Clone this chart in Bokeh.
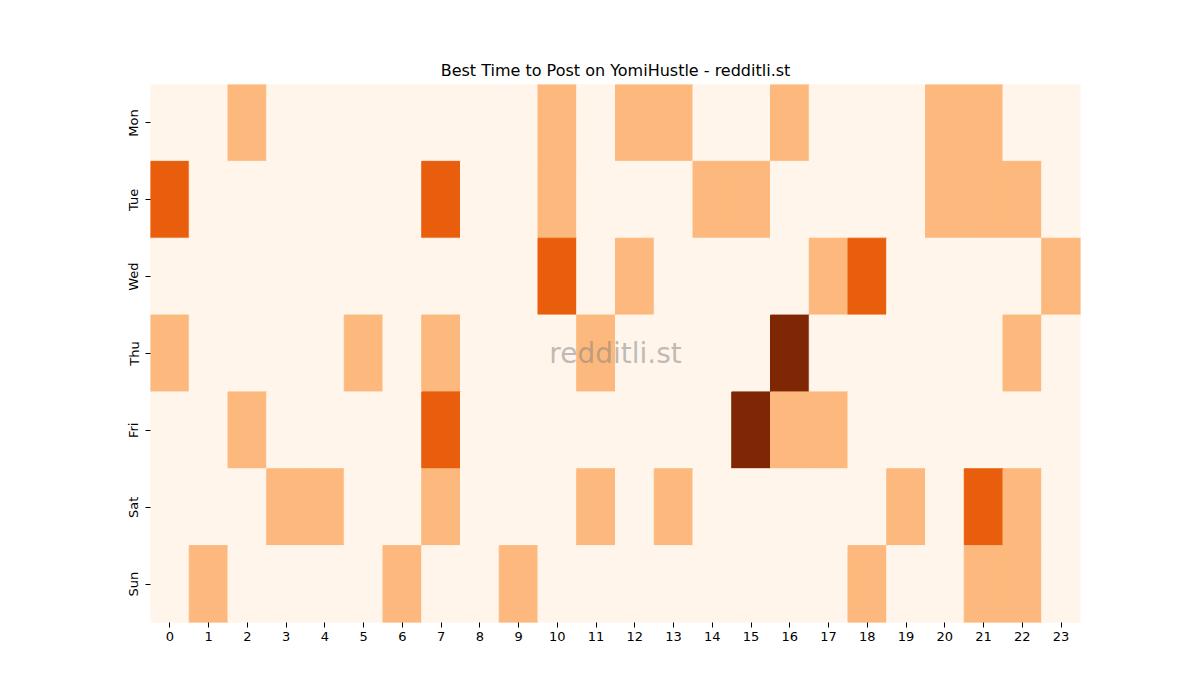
from bokeh.plotting import figure
from bokeh.models import ColumnDataSource, Label, LinearColorMapper
from bokeh.embed import file_html
from bokeh.resources import INLINE

# posting activity per weekday and hour (0..3)
days = ["Mon", "Tue", "Wed", "Thu", "Fri", "Sat", "Sun"]
hours = [str(h) for h in range(24)]

mon = [0, 0, 1, 0, 0, 0, 0, 0, 0, 0, 1, 0, 1, 1, 0, 0, 1, 0, 0, 0, 1, 1, 0, 0]
tue = [2, 0, 0, 0, 0, 0, 0, 2, 0, 0, 1, 0, 0, 0, 1, 1, 0, 0, 0, 0, 1, 1, 1, 0]
wed = [0, 0, 0, 0, 0, 0, 0, 0, 0, 0, 2, 0, 1, 0, 0, 0, 0, 1, 2, 0, 0, 0, 0, 1]
thu = [1, 0, 0, 0, 0, 1, 0, 1, 0, 0, 0, 1, 0, 0, 0, 0, 3, 0, 0, 0, 0, 0, 1, 0]
fri = [0, 0, 1, 0, 0, 0, 0, 2, 0, 0, 0, 0, 0, 0, 0, 3, 1, 1, 0, 0, 0, 0, 0, 0]
sat = [0, 0, 0, 1, 1, 0, 0, 1, 0, 0, 0, 1, 0, 1, 0, 0, 0, 0, 0, 1, 0, 2, 1, 0]
sun = [0, 1, 0, 0, 0, 0, 1, 0, 0, 1, 0, 0, 0, 0, 0, 0, 0, 0, 1, 0, 0, 1, 1, 0]

rows = [mon, tue, wed, thu, fri, sat, sun]

palette = ["#fff5eb", "#fdb97d", "#e95e0d", "#7f2704"]

xs, ys, vals = [], [], []
for d, row in zip(days, rows):
    for h, v in zip(hours, row):
        xs.append(h)
        ys.append(d)
        vals.append(v)

source = ColumnDataSource(dict(hour=xs, day=ys, value=vals))
mapper = LinearColorMapper(palette=palette, low=0, high=3)

p = figure(width=1192, height=692, x_range=hours, y_range=list(reversed(days)),
           output_backend="svg", toolbar_location=None,
           title="Best Time to Post on YomiHustle - redditli.st")
p.min_border_left = 150
p.min_border_right = 112
p.min_border_top = 84
p.min_border_bottom = 70
p.outline_line_color = None
p.grid.grid_line_color = None

# outline in the same colour so no seams show between cells
p.rect(x="hour", y="day", width=1, height=1, source=source,
       fill_color={"field": "value", "transform": mapper},
       line_color={"field": "value", "transform": mapper}, line_width=1)

p.title.align = "center"
p.title.text_font = "DejaVu Sans"
p.title.text_font_size = "16px"
p.title.text_font_style = "normal"
p.title.text_color = "black"

for ax in (p.xaxis, p.yaxis):
    ax.axis_line_color = None
    ax.major_label_text_font = "DejaVu Sans"
    ax.major_label_text_font_size = "13px"
    ax.major_label_text_color = "black"
    ax.major_tick_line_color = "black"
    ax.major_tick_out = 5
    ax.major_tick_in = 0
    ax.major_label_standoff = 4
p.yaxis.major_label_orientation = "vertical"

p.add_layout(Label(x=12, y=3.5, text="redditli.st", text_align="center",
                   text_baseline="middle", text_font="DejaVu Sans",
                   text_font_size="28px", text_color="gray", text_alpha=0.5))

open("out.html", "w").write(file_html(p, INLINE))
